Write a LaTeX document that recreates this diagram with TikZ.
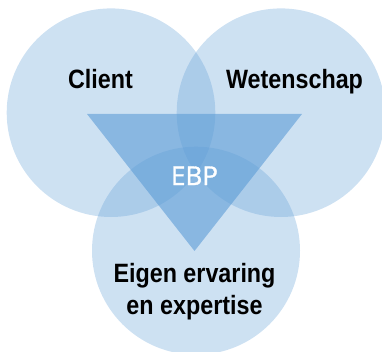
\documentclass[tikz,border=0pt]{standalone}
\usepackage{fontspec}
\setmainfont{Liberation Sans}
\newfontfamily\narrowbold{Liberation Sans}[FakeStretch=0.88]
\newfontfamily\ebpfont{Open Sans}[FakeBold=1.2]
\definecolor{vennblue}{RGB}{91,155,213}
\begin{document}
\begin{tikzpicture}[x=1pt,y=1pt,
  venncircle/.style={fill=vennblue,fill opacity=0.3,draw=none},
  label/.style={font=\narrowbold\bfseries\fontsize{26.5}{32}\selectfont,text=black,inner sep=0pt,anchor=base,align=center}]
\useasboundingbox (0,0) rectangle (382,351);
\fill[venncircle] (111,238.3) circle (104.3);
\fill[venncircle] (281,238.3) circle (104.3);
\fill[venncircle] (196,100.3) circle (104);
\fill[vennblue,fill opacity=0.6] (87,237) -- (302,237) -- (194.5,100) -- cycle;
\node[label] (client) at (100.5,262) {Client};
\node[label] (wet) at (294.5,262) {Wetenschap};
\node[label] (eigen) at (194.5,69) {Eigen ervaring};
\node[label] (exp) at (194.5,37) {en expertise};
\node[font=\ebpfont\fontsize{26}{30}\selectfont,text=white,inner sep=0pt,anchor=base] (ebp) at (194.5,166) {EBP};
\end{tikzpicture}
\end{document}
